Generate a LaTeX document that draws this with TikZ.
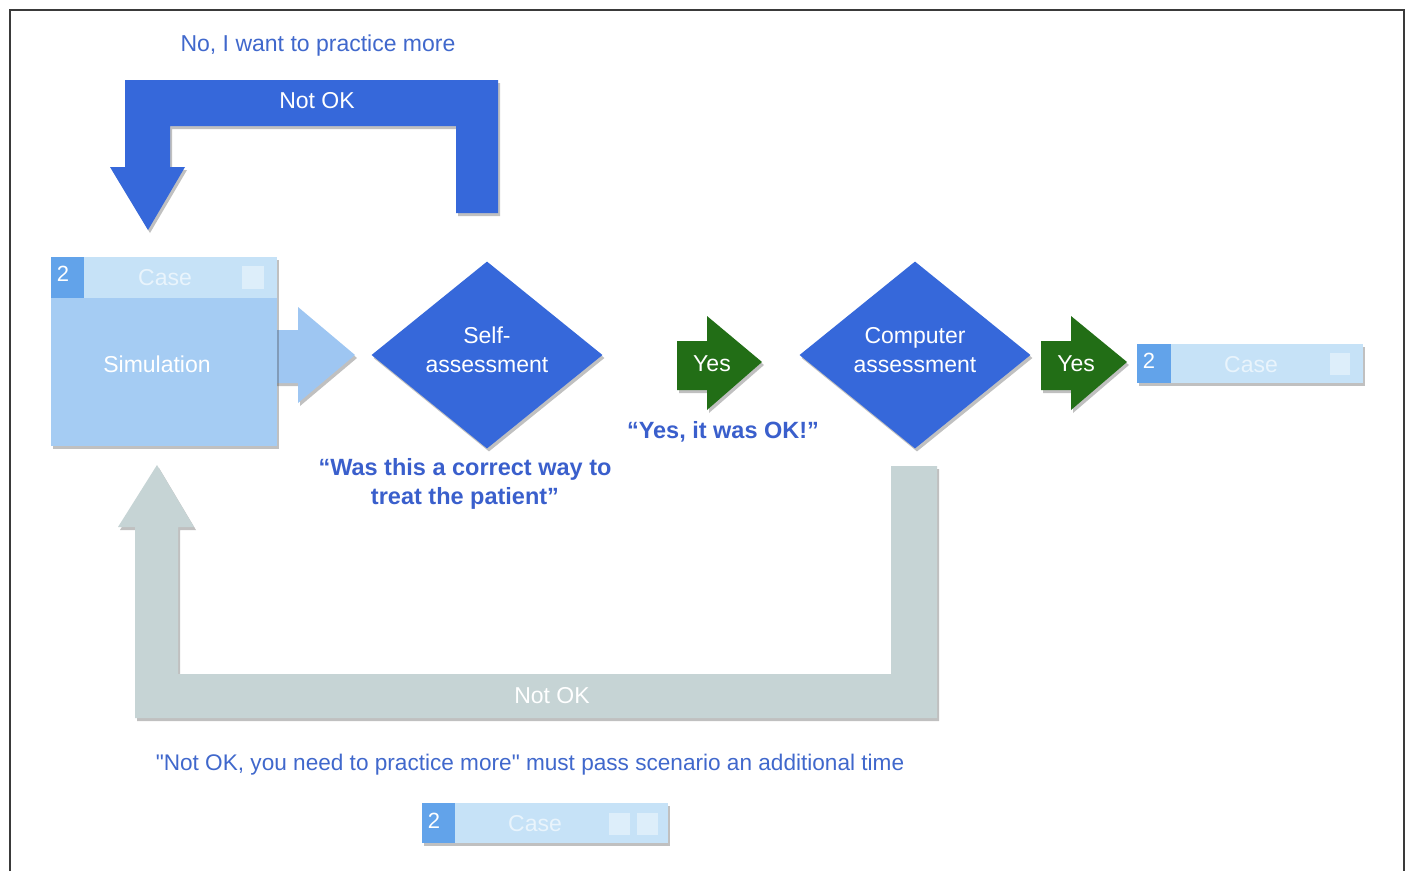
\documentclass[tikz,border=0pt]{standalone}
\usepackage{fontspec}
\setmainfont{Liberation Sans}
\usetikzlibrary{shapes.geometric,shadows}
\definecolor{blueA}{HTML}{3668DA}
\definecolor{greenA}{HTML}{226E16}
\definecolor{grayA}{HTML}{C6D4D5}
\definecolor{simBody}{HTML}{A5CCF3}
\definecolor{simArrow}{HTML}{9EC6F2}
\definecolor{caseHead}{HTML}{C6E2F7}
\definecolor{caseNum}{HTML}{62A3EA}
\definecolor{caseSq}{HTML}{DDEEFA}
\definecolor{caseTxt}{HTML}{E9F4FC}
\definecolor{txtBlue}{HTML}{4068CC}
\definecolor{qBlue}{HTML}{3A5FCC}
\definecolor{frameC}{HTML}{3A3A3A}
\tikzset{
  shd/.style={drop shadow={shadow xshift=2pt, shadow yshift=-3pt, opacity=0.35, fill=black!70}},
  wtext/.style={text=white, font=\fontsize{23}{29}\selectfont, align=center, inner sep=0},
  btext/.style={text=txtBlue, font=\fontsize{23}{29}\selectfont, align=center, inner sep=0},
  qtext/.style={text=qBlue, font=\fontsize{23.5}{29}\selectfont\bfseries, align=center, inner sep=0},
  ctext/.style={text=caseTxt, font=\fontsize{23}{29}\selectfont, inner sep=0},
  ntext/.style={text=white, font=\fontsize{22}{26}\selectfont, inner sep=0},
  dia/.style={diamond, fill=blueA, minimum width=231, minimum height=187, inner sep=0, shd},
  boxbody/.style={rectangle, anchor=north west, inner sep=0, shd},
}
\begin{document}
\begin{tikzpicture}[x=1pt,y=-1pt]
\useasboundingbox (0,0) rectangle (1410,871);
\fill[white] (0,0) rectangle (1410,871);
% frame
\draw[frameC, line width=2] (10,871) -- (10,10) -- (1404,10) -- (1404,871);

% top return arrow
\node[btext] (nowant) at (318,46) {No, I want to practice more};
\fill[blueA, shd] (456,213) -- (498,213) -- (498,80) -- (125,80) -- (125,167) -- (110,167)
  -- (148,230) -- (185,167) -- (170,167) -- (170,126) -- (456,126) -- cycle;
\node[wtext] (notok1) at (317,101) {Not OK};

% simulation arrow and box
\fill[simArrow, shd] (270,330) -- (298,330) -- (298,307) -- (355,355) -- (298,403) -- (298,383) -- (270,383) -- cycle;
\node[boxbody, fill=simBody, minimum width=226, minimum height=189] (sim) at (51,257) {};
\fill[caseHead] (84,257) rectangle (277,298);
\fill[caseNum] (51,257) rectangle (84,298);
\fill[caseSq] (242,266) rectangle (264,289);
\node[ntext] (simnum) at (63,274) {2};
\node[ctext] (simcase) at (165,278) {Case};
\node[wtext] (simtxt) at (157,364) {Simulation};

% self assessment
\node[dia] (self) at (487,355) {};
\node[wtext] (selft) at (487,350) {Self-\\assessment};
\node[qtext] (q1) at (465,484) {“Was this a correct way to\\treat the patient”};

% yes arrow 1
\fill[greenA, shd] (677,341) -- (707,341) -- (707,316) -- (762,362) -- (707,410) -- (707,390) -- (677,390) -- cycle;
\node[wtext] (yes1) at (712,364) {Yes};
\node[qtext] (q2) at (723,432) {“Yes, it was OK!”};

% computer assessment
\node[dia] (comp) at (915,355) {};
\node[wtext] (compt) at (915,350) {Computer\\assessment};

% yes arrow 2
\fill[greenA, shd] (1041,341) -- (1071,341) -- (1071,316) -- (1127,362) -- (1071,410) -- (1071,390) -- (1041,390) -- cycle;
\node[wtext] (yes2) at (1076,364) {Yes};

% case box right
\node[boxbody, fill=caseHead, minimum width=226, minimum height=39] (case1) at (1137,344) {};
\fill[caseNum] (1137,344) rectangle (1171,383);
\fill[caseSq] (1330,353) rectangle (1350,375);
\node[ntext] (c1num) at (1149,361) {2};
\node[ctext] (c1txt) at (1251,365) {Case};

% bottom return arrow
\fill[grayA, shd] (891,466) -- (937,466) -- (937,718) -- (135,718) -- (135,527) -- (118,527)
  -- (157,465) -- (194,527) -- (178,527) -- (178,674) -- (891,674) -- cycle;
\node[wtext] (notok2) at (552,696) {Not OK};

\node[btext, font=\fontsize{22.6}{27}\selectfont] (need) at (530,765) {\textquotedbl Not OK, you need to practice more\textquotedbl{} must pass scenario an additional time};

% case box bottom
\node[boxbody, fill=caseHead, minimum width=246, minimum height=40] (case2) at (422,803) {};
\fill[caseNum] (422,803) rectangle (455,843);
\fill[caseSq] (609,813) rectangle (630,835);
\fill[caseSq] (637,813) rectangle (658,835);
\node[ntext] (c2num) at (434,821) {2};
\node[ctext] (c2txt) at (535,824) {Case};
\end{tikzpicture}
\end{document}
